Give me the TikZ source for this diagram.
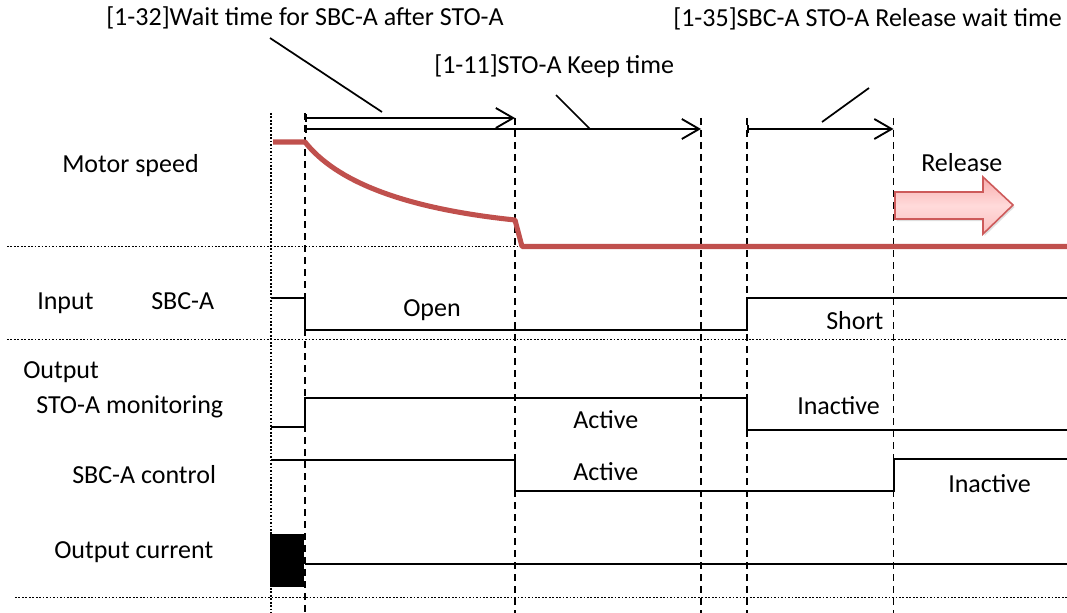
\documentclass[tikz,border=0pt]{standalone}
\usepackage{fontspec}
\setmainfont{Carlito}
\usetikzlibrary{arrows.meta,shadows}
\definecolor{speedred}{RGB}{192,80,77}
\definecolor{relborder}{RGB}{205,90,90}
\definecolor{reltop}{RGB}{248,172,172}
\definecolor{relmid}{RGB}{255,218,218}
\definecolor{relbot}{RGB}{250,190,190}
\tikzset{
  lbl/.style={anchor=base west, inner sep=0pt, font=\fontsize{19.5}{23}\selectfont},
  sig/.style={line width=1.5pt, black},
  dotline/.style={line width=1.3pt, dash pattern=on 1.3pt off 1.3pt},
  dashline/.style={line width=1.4pt, dash pattern=on 5.5pt off 3.5pt},
  leader/.style={line width=1.3pt},
  span/.style={line width=1.4pt, {Bar[width=6pt]}-{Straight Barb[length=13pt,width=15pt,line width=1.4pt]}},
  speed/.style={line width=3.8pt, speedred},
}
\begin{document}
\begin{tikzpicture}[x=0.75pt,y=-0.75pt]
\useasboundingbox (0,0) rectangle (1067,613);
% time marks
\coordinate (t0top) at (271,113);   \coordinate (t0bot) at (271,613);
\coordinate (t1top) at (305,113);   \coordinate (t1bot) at (305,613);
\coordinate (t2top) at (515,118);   \coordinate (t2bot) at (515,613);
\coordinate (t3top) at (701,118);   \coordinate (t3bot) at (701,613);
\coordinate (t4top) at (746.7,118); \coordinate (t4bot) at (746.7,613);
\coordinate (t5top) at (893.5,118); \coordinate (t5bot) at (893.5,613);
% horizontal separators
\coordinate (h1l) at (7,246.5);   \coordinate (h1r) at (1067,246.5);
\coordinate (h2l) at (7,339.5);   \coordinate (h2r) at (1067,339.5);
\coordinate (h3l) at (15,597.5);  \coordinate (h3r) at (1067,597.5);
\draw[dotline] (h1l) -- (h1r);
\draw[dotline] (h2l) -- (h2r);
\draw[dotline] (h3l) -- (h3r);
\draw[dotline] (t0top) -- (t0bot);
\draw[dashline] (t1top) -- (t1bot);
\draw[dashline] (t2top) -- (t2bot);
\draw[dashline] (t3top) -- (t3bot);
\draw[dashline] (t4top) -- (t4bot);
\draw[dashline] (t5top) -- (t5bot);

% top labels
\node[lbl] (l32) at (106,26) {[1-32]Wait time for SBC-A after STO-A};
\node[lbl] (l11) at (434,74) {[1-11]STO-A Keep time};
\node[lbl] (l35) at (673,27) {[1-35]SBC-A STO-A Release wait time};

% span arrows
\coordinate (a1s) at (305,118);   \coordinate (a1e) at (515,118);
\coordinate (a2s) at (305,129);   \coordinate (a2e) at (701,129);
\coordinate (a3s) at (746.7,129); \coordinate (a3e) at (893.5,129);
\draw[span] (a1s) -- (a1e);
\draw[span] (a2s) -- (a2e);
\draw[span] (a3s) -- (a3e);

% leaders
\coordinate (p1a) at (270,38);  \coordinate (p1b) at (382,112);
\coordinate (p2a) at (556,95);  \coordinate (p2b) at (590,129);
\coordinate (p3a) at (869,88);  \coordinate (p3b) at (822,122);
\draw[leader] (p1a) -- (p1b);
\draw[leader] (p2a) -- (p2b);
\draw[leader] (p3a) -- (p3b);

% motor speed
\node[lbl] (ms) at (62,173) {Motor speed};
\draw[speed, line join=round] (273,142) -- (305,142)
  .. controls (335,180) and (400,208) .. (515,220)
  -- (522,246.5) -- (1067,246.5);

% release arrow
\node[lbl] (rel) at (921,172) {Release};
\draw[relborder, line width=1.2pt, top color=reltop, bottom color=relbot, middle color=relmid, line join=miter,
      drop shadow={opacity=0.25, shadow xshift=1.2pt, shadow yshift=-1.5pt}]
  (895,192) -- (983,192) -- (983,177) -- (1013,205) -- (983,234) -- (983,219) -- (895,219) -- cycle;

% input SBC-A
\node[lbl] (inp) at (37,309) {Input};
\node[lbl] (sbca) at (151,309) {SBC-A};
\node[lbl] (open) at (403,316) {Open};
\node[lbl] (short) at (826,329) {Short};
\draw[sig] (271,298) -- (305,298) -- (305,330) -- (746.7,330) -- (746.7,297.5) -- (1067,297.5);

% STO-A monitoring
\node[lbl] (outp) at (23,378) {Output};
\node[lbl] (stom) at (36,413) {STO-A monitoring};
\node[lbl] (act1) at (573,428) {Active};
\node[lbl] (ina1) at (797,414) {Inactive};
\draw[sig] (271,427) -- (305,427) -- (305,398) -- (746.7,398) -- (746.7,430) -- (1067,430);

% SBC-A control
\node[lbl] (sbcc) at (72,483) {SBC-A control};
\node[lbl] (act2) at (573,480) {Active};
\node[lbl] (ina2) at (948,492) {Inactive};
\draw[sig] (271,460) -- (515,460) -- (515,490.5) -- (893.5,490.5) -- (893.5,459) -- (1067,459);

% output current
\node[lbl] (oc) at (54,558) {Output current};
\fill[black] (270,534) rectangle (304,587);
\draw[sig] (305,563.5) -- (1067,563.5);
\end{tikzpicture}
\end{document}
